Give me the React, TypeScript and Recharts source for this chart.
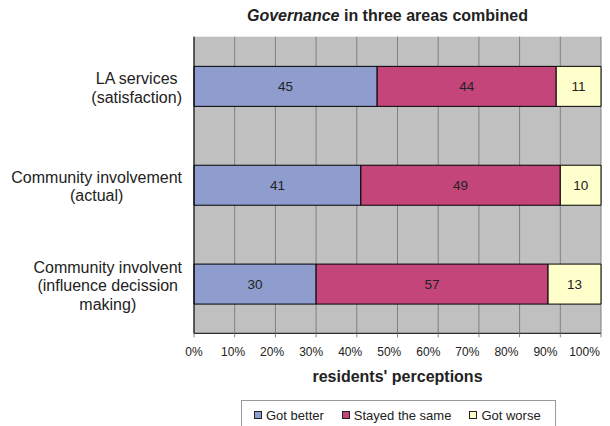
import React from 'react';
import { BarChart, Bar, XAxis, YAxis, CartesianGrid, LabelList, ReferenceLine } from 'recharts';

const categories = [
  'LA services\n(satisfaction)',
  'Community involvement\n(actual)',
  'Community involvent\n(influence decission\nmaking)',
];
const gotBetter = [45, 41, 30];
const stayedSame = [44, 49, 57];
const gotWorse = [11, 10, 13];
const xTicks = [0, 10, 20, 30, 40, 50, 60, 70, 80, 90, 100];
const edgeTicks = [0, 1, 2, 3];

const seriesNames = ['Got better', 'Stayed the same', 'Got worse'];
const seriesKeys = ['better', 'same', 'worse'];
const seriesColors = ['#8E9DCE', '#C4457A', '#FFFFCC'];

const data = categories.map((name, i) => ({
  name,
  better: gotBetter[i],
  same: stayedSame[i],
  worse: gotWorse[i],
}));

const FONT = "'Liberation Sans', Arial, sans-serif";

let ctx: CanvasRenderingContext2D | null = null;
function measure(text: string, font: string) {
  if (!ctx) {
    const c = document.createElement('canvas');
    ctx = c.getContext('2d');
  }
  if (!ctx) return text.length * 8;
  ctx.font = font;
  return ctx.measureText(text).width;
}

const CategoryTick = (props: any) => {
  const { x, y, payload } = props;
  const lines: string[] = String(payload.value).split('\n');
  const maxW = Math.max(...lines.map((l) => measure(l, `16px ${FONT}`)));
  const right = x - 12;
  const cx = right - maxW / 2;
  const lh = 18.5;
  const n = lines.length;
  return (
    <g>
      {lines.map((l, i) => (
        <text
          key={i}
          x={cx}
          y={y + (i - (n - 1) / 2) * lh + 5.7 + 1.5}
          textAnchor="middle"
          fontSize={16}
          fontFamily={FONT}
          fill="#222"
        >
          {l}
        </text>
      ))}
    </g>
  );
};

// Labels are packed slightly tighter than the ticks so that "100%" fits inside the frame
const PercentTick = (props: any) => {
  const { x, y, payload, index } = props;
  return (
    <text
      x={x - (index || 0) * 1.65}
      y={y}
      dy="0.71em"
      textAnchor="middle"
      fontSize={12}
      fontFamily={FONT}
      fill="#222"
    >
      {`${payload.value}%`}
    </text>
  );
};

const AxisTitle = (props: any) => {
  const vb = props.viewBox || {};
  return (
    <text
      x={vb.x + vb.width / 2}
      y={vb.y + 48.4}
      textAnchor="middle"
      fontSize={16}
      fontWeight="bold"
      fontFamily={FONT}
      fill="#222"
    >
      residents' perceptions
    </text>
  );
};

export default function App() {
  return (
    <div
      style={{
        position: 'absolute',
        left: 0,
        top: 0,
        width: 610,
        height: 426,
        background: '#fff',
        fontFamily: FONT,
        overflow: 'hidden',
      }}
    >
      <div
        style={{
          position: 'absolute',
          left: 237.5,
          top: 6.2,
          width: 300,
          textAlign: 'center',
          fontSize: 16,
          lineHeight: '20px',
          fontWeight: 'bold',
          color: '#222',
          whiteSpace: 'nowrap',
        }}
      >
        <i>Governance</i> in three areas combined
      </div>
      <BarChart
        width={610}
        height={426}
        data={data}
        layout="vertical"
        margin={{ top: 36.7, right: 9, left: 10, bottom: 42.7 }}
        barCategoryGap="30%"
      >
        <CartesianGrid
          horizontal={false}
          vertical={true}
          stroke="#808080"
          fill="#C0C0C0"
          fillOpacity={1}
        />
        <XAxis
          type="number"
          domain={[0, 100]}
          ticks={xTicks}
          height={50}
          tickSize={4}
          tickMargin={10}
          tickLine={{ stroke: '#808080' }}
          axisLine={{ stroke: '#000' }}
          tick={<PercentTick />}
          interval={0}
          label={<AxisTitle />}
        />
        <YAxis
          yAxisId="edge"
          type="number"
          domain={[0, 3]}
          ticks={edgeTicks}
          width={0}
          tickSize={5}
          tickLine={{ stroke: '#808080' }}
          axisLine={false}
          tickFormatter={() => ''}
          interval={0}
        />
        <YAxis
          yAxisId="cat"
          type="category"
          dataKey="name"
          width={184}
          tickSize={0}
          tickMargin={0}
          tickLine={false}
          axisLine={{ stroke: '#000' }}
          tick={<CategoryTick />}
          interval={0}
        />
        <ReferenceLine yAxisId="edge" y={3} stroke="#808080" />
        {seriesKeys.map((k, i) => (
          <Bar
            key={k}
            yAxisId="cat"
            dataKey={k}
            name={seriesNames[i]}
            stackId="s"
            fill={seriesColors[i]}
            stroke="#000"
            strokeWidth={1}
            isAnimationActive={false}
          >
            <LabelList
              dataKey={k}
              position="center"
              fill="#222"
              fontSize={13.5}
              fontFamily={FONT}
            />
          </Bar>
        ))}
      </BarChart>
      <div
        style={{
          position: 'absolute',
          left: 241,
          top: 400,
          width: 315,
          height: 30,
          border: '1px solid #999',
          boxSizing: 'border-box',
          display: 'flex',
          alignItems: 'center',
          fontSize: 13,
          color: '#222',
          paddingLeft: 12,
        }}
      >
        {seriesNames.map((n, i) => (
          <div
            key={n}
            style={{ display: 'flex', alignItems: 'center', marginRight: i < 2 ? 18 : 0 }}
          >
            <span
              style={{
                display: 'inline-block',
                width: 6,
                height: 6,
                border: '1px solid #222',
                background: seriesColors[i],
                marginRight: 4,
              }}
            />
            <span>{n}</span>
          </div>
        ))}
      </div>
    </div>
  );
}
